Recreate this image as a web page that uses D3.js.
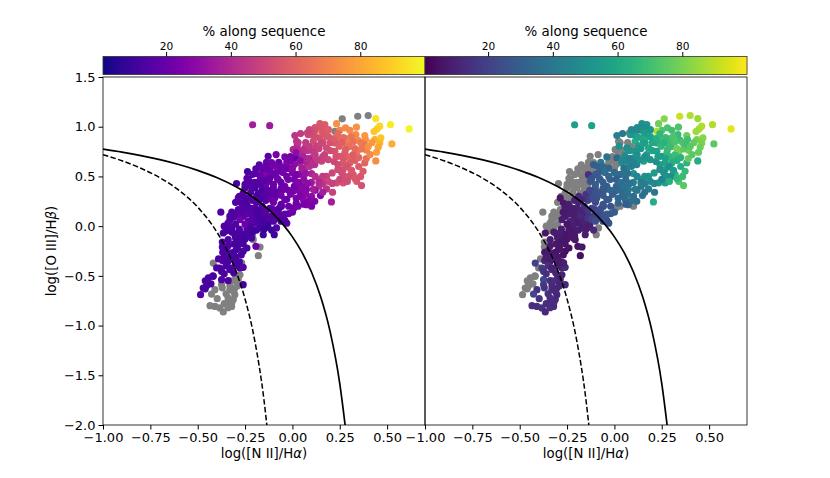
<!DOCTYPE html>
<html>
<head>
<meta charset="utf-8">
<script src="https://d3js.org/d3.v7.min.js"></script>
<style>
  body { margin: 0; background: #fff; }
  text { font-family: "DejaVu Sans", sans-serif; fill: #000; }
</style>
</head>
<body>
<svg id="chart" width="830" height="478"></svg>
<script>
// each row: log NII/Ha, log OIII/Hb, % along sequence (left), % along sequence (right)
// null means the galaxy is off that sequence and is drawn grey
var tipPoints = [
  [.263,1.079,null,82],[.345,1.105,null,92],[.400,1.112,null,88],[.440,1.082,95,85],[.518,1.021,97,88],
  [.616,.978,99,96],[.525,.827,82,75],[.461,1.005,92,88],[.447,.978,90,87],[.431,.951,88,85],
  [.233,1.031,74,78],[.141,.964,74,55],[.338,.995,74,72],[.250,.964,70,72],[.280,.988,72,72],
  [.303,.964,72,70],[.335,.921,72,68],[.382,.911,76,78],[.347,.864,73,68],[.386,.871,75,70],
  [.435,.871,82,80],[.467,.887,88,82],[.461,.837,84,80],[.453,.794,80,78],[.444,.743,78,76],
  [.440,.656,73,62],[.391,.763,70,78],[.342,.753,67,80],[.365,.777,66,75],[.291,.877,70,70],
  [.286,.820,66,68],[.247,.877,64,70],[.224,.837,56,62],[.247,.804,58,66],[.224,.753,54,58],
  [.250,.703,56,55],[.277,.736,58,66],[.303,.696,60,66],[.321,.720,58,68],[.268,.636,56,58],
  [.303,.636,58,62],[.268,.569,54,55],[.312,.562,56,55],[.277,.502,54,52],[.321,.518,56,65],
  [.339,.451,56,72],[.365,.408,54,74],[.382,.636,60,65],[.373,.552,58,68],[.224,.954,null,88]
];

var upperPoints = [
  [.145,1.031,56,50],[.171,1.021,58,52],[.154,.988,56,48],[.118,.964,52,45],[.083,.921,50,55],
  [.043,.931,46,40],[.013,.911,44,44],[.022,.854,44,null],[.025,.804,40,50],[.066,.787,44,50],
  [.110,.854,52,62],[.145,.887,54,60],[.180,.904,56,58],[.162,.844,52,58],[.127,.804,48,55],
  [.180,.787,52,60],[.110,.753,46,52],[.004,.770,36,null],[.054,.709,38,48],[.101,.686,44,50],
  [.154,.653,48,56],[.189,.669,50,52],[.118,.619,42,45],[.083,.669,25,48],[.022,.693,32,null],
  [.066,.585,40,48],[.039,.636,38,48],[.101,.528,38,50],[.057,.518,34,40],[.141,.468,44,55],
  [.180,.502,48,52],[.210,.535,50,55],[.141,.401,42,40],[.189,.451,50,48],[.233,.435,52,52],
  [.268,.435,54,56],[.180,.374,44,42],[.212,.341,48,40],[.148,.307,26,38],[.101,.300,30,35],
  [.206,.244,36,62],[.118,.250,26,35],[.101,.200,24,null],[.074,.216,26,35],[.057,.267,28,35],
  [.074,.368,26,40],[.039,.418,30,45],[.08,.76,44,52],[.12,.72,46,50],[.17,.72,50,55],
  [.20,.84,54,60],[.14,.78,48,52],[.07,.84,46,null],[.10,.92,52,52],[.16,.94,56,55],
  [.19,.97,58,52],[.27,.89,62,68],[.30,.80,64,68],[.33,.78,62,78],[.27,.68,56,58],
  [.29,.60,54,50],[.24,.62,52,56],[.22,.65,50,50],[.26,.54,52,50],[.30,.50,54,48],
  [.33,.48,56,66],[.25,.47,50,45],[.21,.43,48,46],[.16,.50,46,50],
  [.09,.60,42,42],[.05,.58,36,38],[.01,.62,30,null],[.06,.47,30,35],
  [.03,.52,28,36],[.10,.44,34,42],[.12,.36,30,38],[.16,.34,36,36],[.07,.32,28,38],
  [.09,.26,26,36],[.06,.22,24,30],[.03,.20,24,null],[-.21,1.02,36,56],[-.12,1.01,35,58],
  [.12,.99,54,48],[.09,.97,50,46],[.19,.90,56,58],[.22,.88,58,62],[.24,.93,62,66],
  [.26,.84,58,64],[.31,.90,66,72],[.32,.85,64,72],[.36,.84,68,72],[.38,.82,66,70],
  [.28,.77,58,68],[.23,.70,54,56],[.20,.76,52,58],
  [.24,.57,52,50],[.16,.70,48,50],[.13,.67,46,50],[.10,.64,42,44],[.07,.65,38,46],
  [.12,.50,42,46],[.07,.53,32,38],[.16,.43,44,44],[.14,.44,40,42],
  [.29,.45,52,62],[.31,.56,56,55],[.35,.60,58,62],[.36,.50,56,68],[.39,.68,64,76],
  [.33,.66,58,62],[.35,.69,60,64],[.41,.72,72,74],[.42,.84,76,76],[.40,.80,74,74],
  [.05,.76,42,null],[.09,.80,46,null],[.12,.90,52,58],[.15,.83,50,56],[.08,.68,40,44],
  [.11,.37,36,40],[.05,.34,28,36],[.08,.43,30,38],[.08,.94,48,null],[.03,.84,44,null],
  [.007,.77,40,null],[.055,.70,38,null]
];

var middlePoints = [
  [-.086,.720,24,null],[-.128,.703,16,null],[-.175,.616,15,null],[-.237,.549,12,null],[-.137,.642,20,null],
  [-.072,.642,18,40],[-.040,.696,24,38],[-.013,.653,26,null],[.013,.686,16,35],[-.193,.575,15,null],
  [-.154,.552,20,null],[-.110,.619,28,30],[-.031,.585,24,32],[-.066,.552,20,30],[.013,.518,24,34],
  [-.101,.518,22,30],[-.137,.518,26,14],[-.175,.451,15,null],[-.128,.451,18,28],[-.075,.468,22,28],
  [-.022,.468,24,32],[.030,.435,26,38],[-.295,.428,12,null],[-.251,.384,14,null],[-.225,.441,16,null],
  [-.198,.384,12,null],[-.154,.368,14,null],[-.101,.384,18,26],[-.049,.368,22,30],[.004,.351,24,34],
  [.048,.317,28,38],[-.286,.284,24,6],[-.269,.233,14,7],[-.233,.284,14,null],[-.189,.300,16,12],
  [-.145,.284,16,20],[-.093,.284,20,26],[-.040,.267,22,28],[.008,.183,24,null],[-.019,.126,22,28],
  [-.286,.166,16,null],[-.242,.166,12,8],[-.198,.183,16,10],[-.154,.166,14,16],[-.101,.166,18,22],
  [-.058,.200,14,26],[-.378,.140,14,null],[-.321,.106,14,null],[-.260,.099,16,7],[-.216,.116,14,8],
  [-.163,.099,15,10],[-.066,.116,16,25],[-.119,.093,null,20],[-.24,.12,18,8],[-.22,.18,15,9],
  [-.20,.14,13,9],[-.18,.16,12,10],[-.16,.20,14,14],[-.14,.14,16,16],[-.12,.18,16,20],
  [-.09,.13,18,22],[-.07,.18,14,24],[-.04,.12,18,28],[-.02,.20,20,26],[-.25,.28,13,null],
  [-.22,.34,14,null],[-.18,.33,12,null],[-.19,.24,14,10],[-.16,.36,12,null],[-.14,.26,16,18],
  [-.12,.31,16,24],[-.10,.24,22,22],[-.08,.34,18,28],[-.06,.31,22,28],[-.04,.40,22,30],
  [-.01,.32,24,30],[.02,.28,24,32],[.03,.36,26,34],[-.10,.42,20,30],[-.14,.42,22,null],
  [-.17,.50,20,null],[-.12,.56,20,null],[-.08,.48,22,30],[-.05,.54,24,36],[-.02,.58,20,null],
  [.01,.47,24,30],[-.14,.60,18,null],[-.09,.60,24,30],[-.20,.44,14,null],[-.22,.40,16,null],
  [-.24,.48,16,null],[-.27,.14,14,7],[-.29,.12,16,null],[-.31,.09,14,null],
  [-.19,.05,14,9],[-.17,.11,15,10],[-.13,.02,10,14],[-.11,.10,15,18],[-.03,.03,16,26],
  [-.05,.08,17,28],[-.21,.08,17,8],[-.23,.13,16,8],[-.26,.19,15,8],[-.24,.22,13,9],
  [-.21,.26,15,10],[-.17,.27,13,12],[-.15,.32,15,16],[-.11,.27,20,24],[-.06,.22,18,26],
  [-.03,.27,20,28],[.0,.14,20,30],[.02,.23,22,32],[.04,.30,25,34],[-.13,.36,17,22],
  [-.10,.33,18,26],[-.06,.38,20,28],[-.02,.36,22,32],[.01,.40,23,32],[.05,.40,28,36],
  [-.17,.42,15,null],[-.15,.46,16,null],[-.12,.48,18,26],[-.09,.53,20,28],[-.06,.44,21,30],
  [-.03,.50,22,32],[.0,.54,24,34],[.03,.44,26,36],[-.19,.53,18,null],[-.16,.58,19,null],
  [-.11,.64,22,null],[-.06,.60,22,34],[-.03,.64,25,null],[.0,.58,28,null],[.04,.66,30,46],
  [.02,.74,30,null],[-.01,.70,24,null],[-.21,.52,16,null],[-.25,.42,14,null],[-.23,.46,15,null],
  [-.19,.42,14,null],[-.26,.33,14,null],[-.28,.30,14,null],[-.30,.24,14,null],[-.32,.14,13,null],
  [-.33,.10,14,null]
];

var lowerPoints = [
  [-.330,.065,14,null],[-.347,-.002,14,null],[-.365,-.069,12,6],[-.339,-.136,14,8],[-.304,-.086,15,8],
  [-.277,.065,22,8],[-.233,.049,16,10],[-.180,.099,12,12],[-.145,.032,10,8],[-.096,-.086,10,null],
  [-.154,-.086,10,8],[-.084,-.018,14,null],[-.040,.059,14,24],[-.193,-.203,20,5],[-.216,-.119,12,6],
  [-.171,-.210,null,6],[-.180,-.297,null,4],[-.295,-.237,12,6],[-.260,-.253,12,5],[-.368,-.263,14,6],
  [-.330,-.270,12,7],[-.368,-.347,14,10],[-.339,-.354,13,8],[-.418,-.371,null,20],[-.383,-.421,14,18],
  [-.330,-.437,12,12],[-.277,-.421,12,10],[-.260,-.414,14,12],[-.374,-.455,12,16],[-.418,-.505,12,null],
  [-.444,-.521,12,null],[-.339,-.548,13,14],[-.374,-.538,14,22],[-.260,-.589,12,12],[-.453,-.599,12,null],
  [-.471,-.622,12,null],[-.485,-.689,14,null],[-.374,-.589,null,18],[-.330,-.639,null,12],[-.304,-.622,null,10],
  [-.409,-.639,null,15],[-.427,-.683,null,22],[-.397,-.729,null,16],[-.435,-.800,null,14],[-.409,-.807,null,14],
  [-.383,-.823,null,15],[-.365,-.863,null,12],[-.339,-.756,null,14],[-.321,-.807,null,14],[-.312,-.739,null,12],
  [-.304,-.689,null,11],[-.286,-.538,null,10],[-.207,-.136,null,6],[-.224,-.069,null,8],[-.32,-.02,12,null],
  [-.30,.02,14,null],[-.28,-.03,14,8],[-.26,-.08,12,6],[-.24,-.03,14,8],[-.22,-.01,12,8],
  [-.25,.02,20,6],[-.20,.03,16,8],[-.18,.03,14,8],[-.16,.05,12,10],[-.14,.08,12,16],
  [-.12,.07,14,20],[-.10,.05,14,24],[-.08,.08,16,24],[-.06,.05,14,26],[-.30,-.12,12,8],
  [-.28,-.16,12,6],[-.26,-.18,13,6],[-.31,-.18,12,7],[-.24,-.22,12,5],[-.27,-.29,12,5],
  [-.30,-.31,13,7],[-.33,-.33,12,8],[-.35,-.40,13,14],[-.30,-.40,12,9],[-.28,-.36,12,6],
  [-.34,.03,16,null],[-.36,.0,13,null],
  [-.29,-.07,13,8],[-.27,-.12,12,7],[-.25,-.13,11,6],[-.23,-.08,13,7],[-.21,-.06,11,8],
  [-.19,-.04,10,8],[-.17,-.02,11,8],[-.15,-.03,9,9],[-.13,-.01,9,9],[-.11,-.04,10,12],
  [-.33,.0,14,null],[-.35,-.05,13,null],[-.37,-.16,13,null],[-.37,-.21,13,null],[-.39,-.33,14,null],
  [-.40,-.42,13,null],[-.42,-.50,12,null],[-.46,-.55,12,null],[-.43,-.58,12,null],[-.46,-.63,12,null],
  [-.37,-.62,null,16],[-.35,-.68,null,14],[-.33,-.60,null,12],[-.31,-.66,null,12],[-.29,-.60,null,11],
  [-.34,-.72,null,14],[-.36,-.78,null,13],[-.34,-.82,null,14],[-.32,-.77,null,13],[-.30,-.55,null,10],
  [-.277,-.489,null,10],[-.268,-.37,null,9],[-.233,-.052,null,7],[-.21,-.10,null,7],[-.30,-.50,null,9],
  [-.32,-.55,null,13],[-.32,-.06,13,8],[-.31,-.26,12,6],[-.29,-.22,12,6],[-.34,-.20,14,7],
  [-.33,-.42,13,10],[-.36,-.48,13,14],[-.31,-.47,12,10],[-.36,-.31,13,8],[-.35,-.25,13,7],
  [-.30,-.35,12,7]
];

// demarcation curves
var kewleyX = [-1,-.9,-.8,-.7,-.6,-.5,-.4,-.3,-.2,-.1,0,.05,.1,.15,.2,.25,.285];
var kewleyY = [.775,.745,.71,.669,.62,.561,.489,.398,.28,.12,-.108,-.262,-.459,-.716,-1.069,-1.583,-2.107];
var kauffX = [-1,-.9,-.8,-.7,-.6,-.5,-.4,-.35,-.3,-.25,-.2,-.15,-.13];
var kauffY = [.719,.658,.582,.487,.362,.191,-.056,-.225,-.443,-.733,-1.14,-1.75,-2.089];

var xTicks = [-1, -.75, -.5, -.25, 0, .25, .5];
var yTicks = [-2, -1.5, -1, -.5, 0, .5, 1, 1.5];
var barTicks = [20, 40, 60, 80];

var points = tipPoints.concat(upperPoints, middlePoints, lowerPoints);

var svg = d3.select('#chart'),
    plotTop = 77, plotBottom = 425;

var y = d3.scaleLinear().domain([-2, 1.5]).range([plotBottom, plotTop]);

function curveLine(xs, ys, x) {
    return d3.line()
        .x(function(d) { return x(d); })
        .y(function(d, i) { return y(ys[i]); })
        .curve(d3.curveMonotoneX)(xs);
}

function panel(left, right, column, colors, showY, id) {
    var x = d3.scaleLinear().domain([-1, .7]).range([left, right]);
    var barScale = d3.scaleLinear().domain([.5, 100]).range([left, right]);
    var color = d3.scaleSequential(colors).domain([.5, 100]);

    svg.append('clipPath').attr('id', id)
        .append('rect')
        .attr('x', left).attr('y', plotTop)
        .attr('width', right - left).attr('height', plotBottom - plotTop);

    // colorbar
    var barG = svg.append('g');
    barG.selectAll('rect')
        .data(d3.range(0, right - left))
        .enter().append('rect')
        .attr('x', function(d) { return left + d; })
        .attr('y', 56.5)
        .attr('width', 1.4)
        .attr('height', 18)
        .attr('fill', function(d) { return color(barScale.invert(left + d)); });
    barG.append('rect')
        .attr('x', left).attr('y', 56.5)
        .attr('width', right - left).attr('height', 18)
        .attr('fill', 'none').attr('stroke', '#333').attr('stroke-width', .8);

    var barAxis = svg.append('g')
        .attr('transform', 'translate(0,56.5)')
        .call(d3.axisTop(barScale).tickValues(barTicks).tickSize(4.5).tickPadding(2.5));
    barAxis.select('.domain').remove();
    barAxis.selectAll('text').style('font-size', '10.6px');

    svg.append('text')
        .attr('x', (left + right) / 2).attr('y', 36)
        .attr('text-anchor', 'middle')
        .style('font-size', '13.4px')
        .text('% along sequence');

    // points, grey ones underneath
    var g = svg.append('g').attr('clip-path', 'url(#' + id + ')');
    var sorted = points.filter(function(d) { return d[column] === null; })
        .concat(points.filter(function(d) { return d[column] !== null; }));
    g.selectAll('circle')
        .data(sorted)
        .enter().append('circle')
        .attr('cx', function(d) { return x(d[0]); })
        .attr('cy', function(d) { return y(d[1]); })
        .attr('r', 3.6)
        .attr('fill', function(d) { return d[column] === null ? '#808080' : color(d[column]); });

    g.append('path')
        .attr('d', curveLine(kewleyX, kewleyY, x))
        .attr('fill', 'none').attr('stroke', '#000').attr('stroke-width', 1.7);
    g.append('path')
        .attr('d', curveLine(kauffX, kauffY, x))
        .attr('fill', 'none').attr('stroke', '#000').attr('stroke-width', 1.5)
        .attr('stroke-dasharray', '5.5,2.4');

    // axes
    var xAxis = svg.append('g')
        .attr('transform', 'translate(0,' + plotBottom + ')')
        .call(d3.axisBottom(x).tickValues(xTicks).tickFormat(d3.format('.2f')).tickSize(4.5).tickPadding(3));
    xAxis.select('.domain').remove();
    xAxis.selectAll('text').style('font-size', '13px');

    svg.append('rect')
        .attr('x', left).attr('y', plotTop)
        .attr('width', right - left).attr('height', plotBottom - plotTop)
        .attr('fill', 'none').attr('stroke', '#000').attr('stroke-width', .8);

    if (showY) {
        var yAxis = svg.append('g')
            .attr('transform', 'translate(' + left + ',0)')
            .call(d3.axisLeft(y).tickValues(yTicks).tickFormat(d3.format('.1f')).tickSize(4.5).tickPadding(3));
        yAxis.select('.domain').remove();
        yAxis.selectAll('text').style('font-size', '13px');
    }

    var xLabel = svg.append('text')
        .attr('x', (left + right) / 2).attr('y', 458)
        .attr('text-anchor', 'middle')
        .style('font-size', '13.3px');
    xLabel.append('tspan').text('log([N II]/H');
    xLabel.append('tspan').style('font-style', 'italic').text('α');
    xLabel.append('tspan').text(')');
}

panel(103, 425, 2, d3.interpolatePlasma, true, 'clipLeft');
panel(425, 747, 3, d3.interpolateViridis, false, 'clipRight');

var yLabel = svg.append('text')
    .attr('transform', 'translate(56,251) rotate(-90)')
    .attr('text-anchor', 'middle')
    .style('font-size', '13.3px');
yLabel.append('tspan').text('log([O III]/H');
yLabel.append('tspan').style('font-style', 'italic').text('β');
yLabel.append('tspan').text(')');
</script>
</body>
</html>
